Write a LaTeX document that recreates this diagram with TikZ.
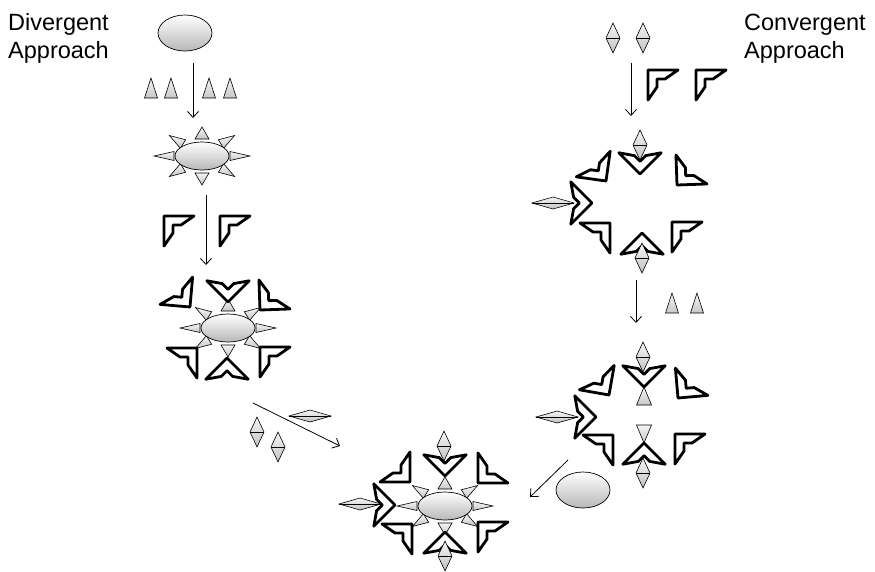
\documentclass[tikz,border=0pt]{standalone}
\usepackage{fontspec}
\setmainfont{Liberation Sans}
\usetikzlibrary{arrows.meta}
\tikzset{
  corefill/.style={draw=black,line width=0.7pt,top color=white,bottom color=black!28},
  trifill/.style ={draw=black,line width=0.6pt,top color=black!4,bottom color=black!22},
  diafill/.style ={draw=black,line width=0.6pt,top color=black!4,bottom color=black!24},
  chevline/.style={draw=black,fill=white,line width=2.8pt,line join=round},
  flow/.style    ={-{Straight Barb[length=6pt,width=11pt]},line width=0.8pt},
  heading/.style ={font=\fontsize{23.5}{28}\selectfont,align=left,anchor=north west,inner sep=0pt},
  blob/.pic    ={\path[corefill] (0,0) ellipse [x radius=27,y radius=18];},
  core/.pic    ={\path[corefill] (0,0) ellipse [x radius=27,y radius=14];},
  tri/.pic     ={\path[trifill] (0,-7) -- (12,0) -- (0,7) -- cycle;},
  trilong/.pic ={\path[trifill] (0,-4.5) -- (20,0) -- (0,4.5) -- cycle;},
  tridiag/.pic ={\path[trifill] (0,-5) -- (16,0) -- (0,5) -- cycle;},
  trimid/.pic  ={\path[trifill] (0,-7.5) -- (18,0) -- (0,7.5) -- cycle;},
  trifree/.pic ={\path[trifill] (0,-6.5) -- (20,0) -- (0,6.5) -- cycle;},
  chev/.pic    ={\path[chevline] (0,0) -- (30,0) -- (17,9) -- (9,9) -- (9,17) -- (0,30) -- cycle;},
  dia/.pic     ={\path[diafill] (0,-15) -- (7,0) -- (0,15) -- (-7,0) -- cycle;
                 \draw[line width=0.6pt] (-7,0) -- (7,0);},
  diaw/.pic    ={\path[diafill] (-21,0) -- (0,-6) -- (21,0) -- (0,6) -- cycle;
                 \draw[line width=0.6pt] (-21,0) -- (21,0);},
  ring/.pic    ={
    \pic[rotate=90]  at (0,-17) {tri};
    \pic[rotate=-90] at (0,17)  {tri};
    \pic             at (28,0)  {trilong};
    \pic[rotate=180] at (-28,0) {trilong};
    \pic[rotate=32]  at (19,-12)  {tridiag};
    \pic[rotate=148] at (-19,-12) {tridiag};
    \pic[rotate=212] at (-19,12)  {tridiag};
    \pic[rotate=-32] at (19,12)   {tridiag};
    \pic {core};},
}

\begin{document}
\begin{tikzpicture}[x=1pt,y=-1pt]
  \useasboundingbox (0,0) rectangle (875,571);

  \node[heading] (divtxt) at (8,13)   {Divergent\\Approach};
  \node[heading] (contxt) at (744,14) {Convergent\\Approach};

  % divergent side
  \pic at (185,33) {blob};
  \foreach \x in {151,171,209,230} \pic[rotate=90] at (\x,98) {trifree};
  \pic at (202,156) {ring};
  \pic at (164,216) {chev};
  \pic at (220,216) {chev};

  \pic at (228,328) {ring};
  \pic[rotate=135]  at (228,302) {chev};
  \pic[rotate=-185] at (190,307) {chev};
  \pic[rotate=92]   at (260,310) {chev};
  \pic[rotate=-90]  at (197,348) {chev};
  \pic[rotate=0]    at (260,347) {chev};
  \pic[rotate=-45]  at (227,358) {chev};

  \pic at (310,416) {diaw};
  \pic at (257,432) {dia};
  \pic at (278,447) {dia};

  % convergent side
  \pic at (613,38) {dia};
  \pic at (643,38) {dia};
  \pic at (648,70) {chev};
  \pic at (696,70) {chev};

  \pic[rotate=135]  at (640,174) {chev};
  \pic[rotate=-188] at (606,181) {chev};
  \pic[rotate=92]   at (677,185) {chev};
  \pic[rotate=-135] at (592,203) {chev};
  \pic[rotate=-90]  at (610,223) {chev};
  \pic[rotate=0]    at (672,222) {chev};
  \pic[rotate=-45]  at (642,233) {chev};
  \pic at (640,145) {dia};
  \pic at (553,203) {diaw};
  \pic at (642,258) {dia};

  \foreach \x in {672,697} \pic[rotate=90] at (\x,313) {trifree};

  \pic[rotate=90]  at (644,405) {trimid};
  \pic[rotate=-90] at (644,425) {trimid};
  \pic[rotate=135]  at (644,387) {chev};
  \pic[rotate=-190] at (609,395) {chev};
  \pic[rotate=95]   at (678,398) {chev};
  \pic[rotate=-135] at (596,417) {chev};
  \pic[rotate=-90]  at (613,435) {chev};
  \pic[rotate=0]    at (675,434) {chev};
  \pic[rotate=-45]  at (644,443) {chev};
  \pic at (643,357) {dia};
  \pic at (557,417) {diaw};
  \pic at (643,473) {dia};

  \pic at (583,490) {blob};

  % product
  \pic at (445,506) {ring};
  \pic[rotate=135]  at (445,476) {chev};
  \pic[rotate=-180] at (410,482) {chev};
  \pic[rotate=90]   at (478,483) {chev};
  \pic[rotate=-135] at (395,505) {chev};
  \pic[rotate=-90]  at (412,524) {chev};
  \pic[rotate=0]    at (478,522) {chev};
  \pic[rotate=-45]  at (445,532) {chev};
  \pic at (444,446) {dia};
  \pic at (360,504) {diaw};
  \pic at (445,556) {dia};

  % arrows
  \coordinate (d1a) at (193,63);  \coordinate (d1b) at (193,118);
  \coordinate (d2a) at (206,195); \coordinate (d2b) at (206,265);
  \coordinate (d3a) at (253,403); \coordinate (d3b) at (340,446);
  \coordinate (c1a) at (631,63);  \coordinate (c1b) at (631,116);
  \coordinate (c2a) at (636,280); \coordinate (c2b) at (636,323);
  \coordinate (c3a) at (568,460); \coordinate (c3b) at (530,497);
  \draw[flow] (d1a) -- (d1b);
  \draw[flow] (d2a) -- (d2b);
  \draw[flow] (d3a) -- (d3b);
  \draw[flow] (c1a) -- (c1b);
  \draw[flow] (c2a) -- (c2b);
  \draw[flow] (c3a) -- (c3b);
\end{tikzpicture}
\end{document}
